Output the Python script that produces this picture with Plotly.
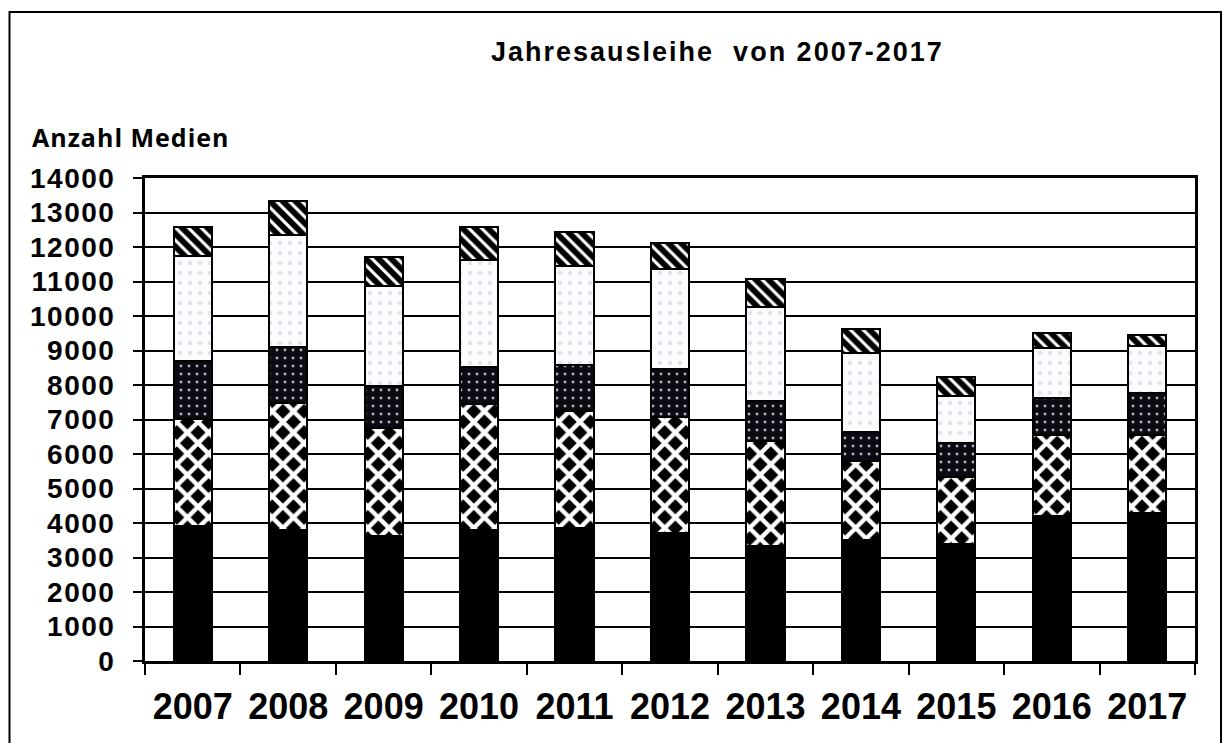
import plotly.graph_objects as go

years = ["2007", "2008", "2009", "2010", "2011", "2012", "2013", "2014", "2015", "2016", "2017"]
seg_black = [3920, 3800, 3630, 3800, 3860, 3700, 3340, 3520, 3390, 4210, 4280]
seg_diamond = [3090, 3670, 3110, 3650, 3400, 3380, 3040, 2290, 1930, 2340, 2270]
seg_darkdots = [1690, 1640, 1230, 1060, 1320, 1370, 1160, 840, 990, 1060, 1210]
seg_lightdots = [3050, 3230, 2900, 3110, 2870, 2900, 2710, 2270, 1370, 1460, 1370]
seg_stripes = [840, 1000, 850, 970, 980, 770, 830, 700, 540, 450, 320]

y_ticks = list(range(0, 14001, 1000))

# page body has an 8px margin, so the figure is sized/offset to fit the window
W, H = 1222, 735
L, R, T, B = 137, 35, 170, 82
PW, PH = W - L - R, H - T - B

def px_x(x):
    return (x - 8 - L) / PW

def px_y(y):
    return (H - B - (y - 8)) / PH

fig = go.Figure()

def add(vals, shape, fg, bg, size, solidity):
    fig.add_trace(go.Bar(
        x=years, y=vals,
        marker=dict(
            color=bg,
            line=dict(color="black", width=2),
            pattern=dict(shape=shape, fgcolor=fg, bgcolor=bg, size=size,
                         solidity=solidity, fillmode="replace"),
        ),
        showlegend=False,
    ))

add(seg_black, "", "black", "black", 8, 0.3)
add(seg_diamond, "x", "white", "black", 15, 0.5)
add(seg_darkdots, ".", "#b0b0c0", "#0a0a10", 8, 0.1)
add(seg_lightdots, ".", "#e2e2ea", "#fcfcfe", 10, 0.15)
add(seg_stripes, "\\", "black", "white", 9, 0.65)

fig.update_layout(
    barmode="stack",
    bargap=0.6,
    width=W, height=H,
    margin=dict(l=L, r=R, t=T, b=B),
    paper_bgcolor="white",
    plot_bgcolor="white",
    font=dict(family="Arial, 'Liberation Sans'", color="black"),
)

fig.update_yaxes(
    range=[0, 14000],
    tickvals=y_ticks,
    ticktext=['<b><span style="letter-spacing:1.5px">%d</span></b>' % v for v in y_ticks],
    showgrid=True, gridcolor="black", gridwidth=2,
    showline=True, linecolor="black", linewidth=3, mirror=True,
    ticks="outside", ticklen=9, tickwidth=2, tickcolor="black",
    tickfont=dict(family="Arial, 'Liberation Sans'", size=28, color="black", weight="bold"),
    ticklabelstandoff=12,
    zeroline=False,
)
fig.update_xaxes(
    showline=True, linecolor="black", linewidth=3, mirror=True,
    ticks="outside", ticklen=11, tickwidth=2, tickcolor="black",
    tickson="boundaries",
    tickfont=dict(family="Arial, 'Liberation Sans'", size=36, color="black", weight="bold"),
    ticklabelstandoff=12,
)

fig.add_annotation(
    text='<b><span style="letter-spacing:2px">Jahresausleihe\u00a0 von 2007-2017</span></b>',
    xref="paper", yref="paper",
    x=px_x(717), y=px_y(52),
    xanchor="center", yanchor="middle", showarrow=False,
    font=dict(family="Arial, 'Liberation Sans'", size=27, color="black", weight="bold"),
)
fig.add_annotation(
    text='<b><span style="letter-spacing:1px">Anzahl Medien</span></b>',
    xref="paper", yref="paper",
    x=px_x(30), y=px_y(137),
    xanchor="left", yanchor="middle", showarrow=False,
    font=dict(family="Open Sans", size=25, color="black", weight="bold"),
)
fig.add_shape(
    type="rect", xref="paper", yref="paper",
    x0=px_x(9.5), x1=px_x(1221),
    y0=px_y(770), y1=px_y(12),
    line=dict(color="black", width=2), fillcolor="rgba(0,0,0,0)", layer="below",
)

fig.write_html("out.html")
